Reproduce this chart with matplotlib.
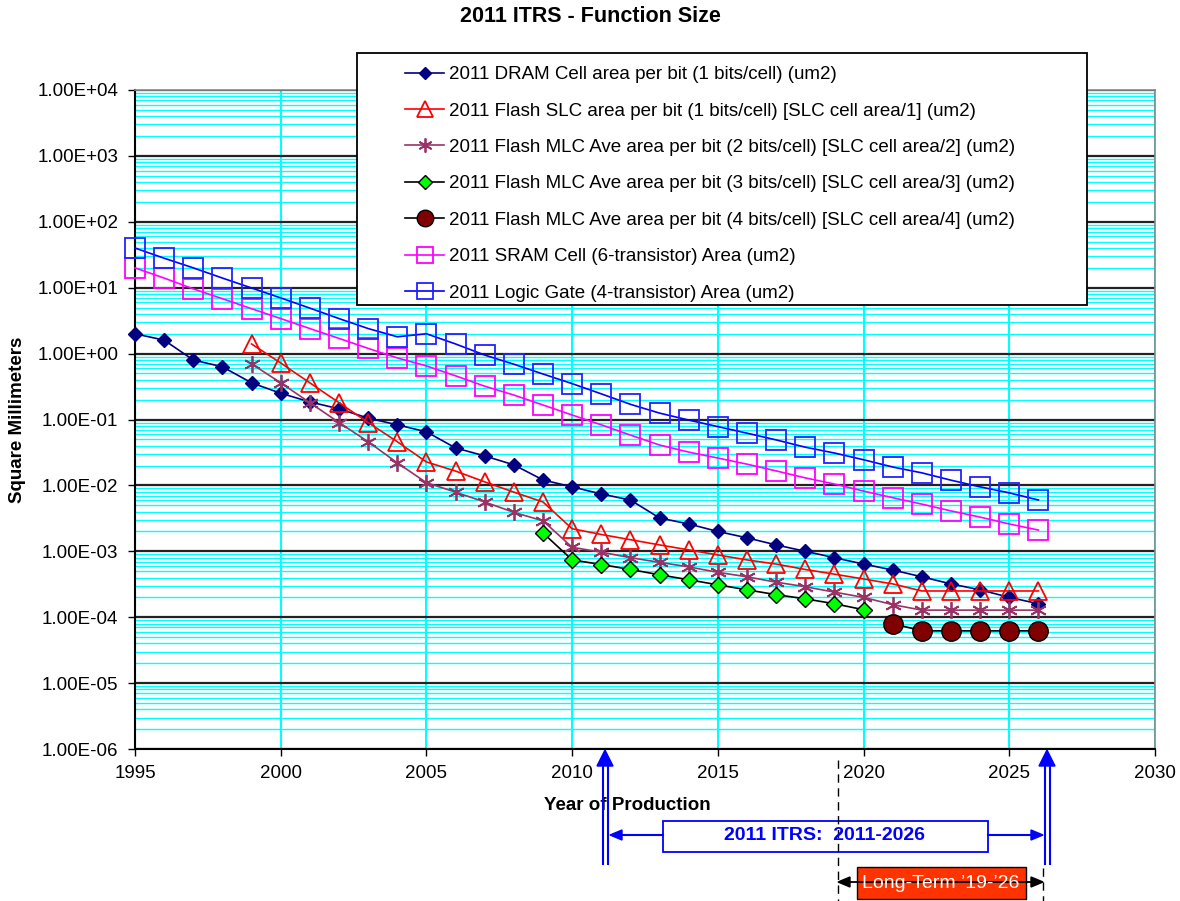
import matplotlib
matplotlib.use("Agg")
import matplotlib.pyplot as plt
import numpy as np
from matplotlib.ticker import FuncFormatter, LogLocator, FixedLocator
from matplotlib.patches import Rectangle, Polygon
from matplotlib.lines import Line2D

plt.rcParams['font.family'] = ['Liberation Sans', 'DejaVu Sans']

# ---- data ----
years_all = list(range(1995, 2027))
years_flash = list(range(1999, 2027))
years_mlc3 = list(range(2009, 2021))
years_mlc4 = list(range(2021, 2027))

dram = [2.0, 1.6, 0.8, 0.63, 0.36, 0.25, 0.185, 0.145, 0.105, 0.083, 0.065,
        0.037, 0.028, 0.0205, 0.0121, 0.0095, 0.0074, 0.006, 0.0032, 0.0026,
        0.002, 0.0016, 0.00125, 0.001, 0.0008, 0.00064, 0.00052, 0.00041,
        0.00032, 0.00026, 0.0002, 0.00016]
flash_slc = [1.4, 0.72, 0.36, 0.18, 0.09, 0.046, 0.0227, 0.0165, 0.0113, 0.0079,
             0.0056, 0.0022, 0.0018, 0.0015, 0.00125, 0.00105, 0.00088, 0.00074,
             0.00064, 0.00053, 0.00045, 0.00038, 0.00032, 0.00025, 0.00025,
             0.00025, 0.00025, 0.00025]
flash_mlc2 = [0.7, 0.36, 0.18, 0.09, 0.046, 0.022, 0.011, 0.0079, 0.0056, 0.0039,
              0.0029, 0.00115, 0.00097, 0.0008, 0.00068, 0.00058, 0.00048, 0.00041,
              0.00034, 0.00029, 0.00024, 0.0002, 0.000155, 0.000128, 0.000128,
              0.000128, 0.000128, 0.000128]
flash_mlc3 = [0.0019, 0.00074, 0.00063, 0.00053, 0.00044, 0.00037, 0.00031,
              0.00026, 0.00022, 0.00019, 0.00016, 0.00013]
flash_mlc4 = [8.0e-5, 6.2e-5, 6.2e-5, 6.2e-5, 6.2e-5, 6.2e-5]
sram = [20, 14, 9.6, 6.8, 4.8, 3.4, 2.4, 1.7, 1.2, 0.86, 0.65, 0.46, 0.32, 0.235,
        0.166, 0.117, 0.083, 0.058, 0.041, 0.032, 0.026, 0.021, 0.0166, 0.013,
        0.0105, 0.0082, 0.0065, 0.0052, 0.0041, 0.0033, 0.0026, 0.0021]
logic = [40, 28, 20, 14, 9.9, 7.0, 4.9, 3.4, 2.4, 1.8, 2.0, 1.4, 0.95, 0.69, 0.49,
         0.35, 0.245, 0.17, 0.125, 0.098, 0.078, 0.062, 0.049, 0.038, 0.031,
         0.0245, 0.019, 0.0155, 0.012, 0.0095, 0.0077, 0.006]

labels = [
    "2011 DRAM Cell area per bit (1 bits/cell) (um2)",
    "2011 Flash SLC area per bit (1 bits/cell) [SLC cell area/1] (um2)",
    "2011 Flash MLC Ave area per bit (2 bits/cell) [SLC cell area/2] (um2)",
    "2011 Flash MLC Ave area per bit (3 bits/cell) [SLC cell area/3] (um2)",
    "2011 Flash MLC Ave area per bit (4 bits/cell) [SLC cell area/4] (um2)",
    "2011 SRAM Cell (6-transistor) Area (um2)",
    "2011 Logic Gate (4-transistor) Area (um2)",
]
x_ticks = [1995, 2000, 2005, 2010, 2015, 2020, 2025, 2030]

W, H = 1180, 901
fig = plt.figure(figsize=(W / 100, H / 100), dpi=100)
ax = fig.add_axes([135 / W, 1 - 749 / H, 1020 / W, 659 / H])

ax.set_yscale('log')
ax.set_xlim(1995, 2030)
ax.set_ylim(1e-6, 1e4)

# grid: black decades, cyan minor, cyan verticals
ax.yaxis.set_major_locator(LogLocator(base=10, numticks=20))
ax.yaxis.set_minor_locator(LogLocator(base=10, subs=np.arange(2, 10), numticks=100))
ax.xaxis.set_major_locator(FixedLocator(x_ticks))
ax.grid(True, which='major', axis='y', color='#222222', lw=1.6, zorder=1)
ax.grid(True, which='minor', axis='y', color='#00FFFF', lw=1.0, zorder=0.5)
ax.grid(True, which='major', axis='x', color='#00FFFF', lw=1.5, zorder=0.5)
ax.set_axisbelow(True)
ax.tick_params(axis='y', which='minor', length=0)
ax.tick_params(axis='both', which='major', length=5, width=1, labelsize=13.5, direction='out')
ax.tick_params(axis='y', pad=7)
ax.tick_params(axis='x', pad=6.5)
ax.yaxis.set_major_formatter(FuncFormatter(lambda v, p: f"{v:.2E}"))
for s in ['left', 'bottom']:
    ax.spines[s].set_color('black')
    ax.spines[s].set_linewidth(1.5)
for s in ['top', 'right']:
    ax.spines[s].set_color('#888888')
    ax.spines[s].set_linewidth(1.2)

lw = 1.2
ax.plot(years_all, dram, color='#000080', lw=lw, marker='D', ms=7,
        mfc='#000080', mec='#000080', label=labels[0], clip_on=False, zorder=3)
ax.plot(years_flash, flash_slc, color='#FF0000', lw=lw, marker='^', ms=13,
        mfc='none', mec='#FF0000', mew=1.3, label=labels[1], clip_on=False, zorder=3)
ax.plot(years_flash, flash_mlc2, color='#993366', lw=lw, marker=(6, 2, 0), ms=12,
        mec='#993366', mew=1.3, label=labels[2], clip_on=False, zorder=3)
ax.plot(years_mlc3, flash_mlc3, color='black', lw=lw, marker='D', ms=8,
        mfc='#00FF00', mec='black', mew=1.0, label=labels[3], clip_on=False, zorder=3)
ax.plot(years_mlc4, flash_mlc4, color='black', lw=lw, marker='o', ms=14,
        mfc='#800000', mec='black', mew=1.0, label=labels[4], clip_on=False, zorder=3)
ax.plot(years_all, sram, color='#FF00FF', lw=lw, marker='s', ms=14,
        mfc='none', mec='#FF00FF', mew=1.3, label=labels[5], clip_on=False, zorder=3)
ax.plot(years_all, logic, color='#0000FF', lw=lw, marker='s', ms=14,
        mfc='none', mec='#2222FF', mew=1.3, label=labels[6], clip_on=False, zorder=3)

ax.set_ylabel("Square Millimeters", fontsize=13.5, fontweight='bold')
ax.yaxis.set_label_coords((18 - 135) / 1020, 0.5)
ax.set_xlabel("Year of Production", fontsize=13.5, fontweight='bold')
ax.xaxis.set_label_coords((627 - 135) / 1020, (749 - 805) / 659)
ax.xaxis.label.set_va('center')
ax.yaxis.label.set_va('center')
fig.text(0.5, 1 - 17 / H, "2011 ITRS - Function Size", ha='center', va='center',
         fontsize=15.5, fontweight='bold')

# legend box
fig.add_artist(Rectangle((357 / W, 1 - 305 / H), 730 / W, 252 / H,
                         transform=fig.transFigure, facecolor='white',
                         edgecolor='black', lw=1.3, zorder=4.9))
handles, labs = ax.get_legend_handles_labels()
leg = fig.legend(handles, labs, loc='upper left',
                 bbox_to_anchor=(405 / W, 1 - 66 / H), frameon=False,
                 fontsize=13.5, borderpad=0, borderaxespad=0, handlelength=2.1,
                 handletextpad=0.25, labelspacing=1.03, markerscale=0.85)
leg.set_zorder(5)

# ---- annotations under the axis (figure pixel coordinates, y from top) ----
def fx(px):
    return px / W

def fy(py):
    return 1 - py / H

tf = fig.transFigure
blue = '#0000FF'
# double blue vertical arrows at 2011 and 2026
for xc in (605, 1047):
    for dx in (-2.5, 2.5):
        fig.add_artist(Line2D([fx(xc + dx)] * 2, [fy(763), fy(864)], transform=tf,
                              color=blue, lw=1.5))
    fig.add_artist(Polygon([[fx(xc), fy(750)], [fx(xc - 8), fy(766)], [fx(xc + 8), fy(766)]],
                           closed=True, transform=tf, color=blue))

# horizontal arrow for the ITRS span
fig.add_artist(Line2D([fx(618), fx(663)], [fy(835), fy(835)], transform=tf, color=blue, lw=1.5))
fig.add_artist(Line2D([fx(988), fx(1034)], [fy(835), fy(835)], transform=tf, color=blue, lw=1.5))
fig.add_artist(Polygon([[fx(610), fy(835)], [fx(622), fy(830)], [fx(622), fy(840)]],
                       closed=True, transform=tf, color=blue))
fig.add_artist(Polygon([[fx(1043), fy(835)], [fx(1031), fy(830)], [fx(1031), fy(840)]],
                       closed=True, transform=tf, color=blue))
fig.add_artist(Rectangle((fx(663), fy(852)), 325 / W, 31 / H, transform=tf,
                         facecolor='white', edgecolor=blue, lw=1.3))
fig.text(fx(825), fy(836), "2011 ITRS:  2011-2026", ha='center', va='center',
         color=blue, fontsize=14, fontweight='bold')

# long-term range
fig.add_artist(Line2D([fx(838)] * 2, [fy(760), fy(901)], transform=tf, color='black',
                      lw=1.0, ls=(0, (6, 4))))
fig.add_artist(Line2D([fx(1043)] * 2, [fy(868), fy(901)], transform=tf, color='black',
                      lw=1.0, ls=(0, (6, 4))))
fig.add_artist(Line2D([fx(846), fx(1035)], [fy(882), fy(882)], transform=tf, color='black', lw=1.3))
fig.add_artist(Polygon([[fx(838), fy(882)], [fx(850), fy(877)], [fx(850), fy(887)]],
                       closed=True, transform=tf, color='black'))
fig.add_artist(Polygon([[fx(1043), fy(882)], [fx(1031), fy(877)], [fx(1031), fy(887)]],
                       closed=True, transform=tf, color='black'))
fig.add_artist(Rectangle((fx(857), fy(899)), 169 / W, 32 / H, transform=tf,
                         facecolor='#FF3300', edgecolor='black', lw=1.0))
fig.text(fx(941), fy(883), "Long-Term \u201919-\u201926", ha='center', va='center',
         color='white', fontsize=14)

fig.savefig("out.png", dpi=100)
